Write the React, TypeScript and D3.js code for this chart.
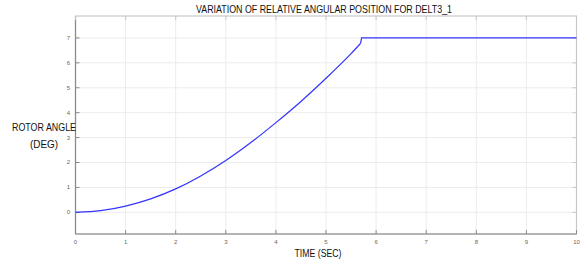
import React from "react";
import * as d3 from "d3";

const timeValues = [0, 0.5, 1, 1.5, 2, 2.5, 3, 3.5, 4, 4.5, 5, 5.5, 5.69];
const angleValues = [0, 0.065, 0.25, 0.54, 0.94, 1.46, 2.08, 2.8, 3.6, 4.45, 5.38, 6.37, 6.78];
const flatTimes = [5.69, 5.71, 10];
const flatValues = [6.78, 7, 7];
const xTicks = [0, 1, 2, 3, 4, 5, 6, 7, 8, 9, 10];
const yTicks = [0, 1, 2, 3, 4, 5, 6, 7];
const title = "VARIATION OF RELATIVE ANGULAR POSITION FOR DELT3_1";
const xLabel = "TIME (SEC)";
const yLabelLines = ["ROTOR ANGLE", "(DEG)"];

const W = 580, H = 264;
const left = 75.5, right = 576.5, top = 16, bottom = 234;
const FONT = "'Liberation Sans Narrow', 'Liberation Sans', Arial, sans-serif";

export default function App() {
  const x = d3.scaleLinear().domain([0, 10]).range([left, right]);
  const y = d3.scaleLinear().domain([-0.87, 7.88]).range([bottom, top]);

  const curve = d3.line<number>()
    .x((_, i) => x(timeValues[i]))
    .y((d) => y(d))
    .curve(d3.curveMonotoneX)(angleValues) as string;
  const flat = d3.line<number>()
    .x((_, i) => x(flatTimes[i]))
    .y((d) => y(d))(flatValues) as string;

  return (
    <svg width={W} height={H} style={{ position: "absolute", left: 0, top: 0, background: "#fff" }}>
      <rect x={0} y={0} width={W} height={H} fill="#fff" />
      {xTicks.map((t) => (
        <line key={"gx" + t} x1={x(t)} x2={x(t)} y1={top} y2={bottom} stroke="#ececec" strokeWidth={1} />
      ))}
      {yTicks.map((t) => (
        <line key={"gy" + t} x1={left} x2={right} y1={y(t)} y2={y(t)} stroke="#ececec" strokeWidth={1} />
      ))}
      <rect x={left} y={top} width={right - left} height={bottom - top} fill="none" stroke="#c8c8c8" strokeWidth={1.2} />
      <line x1={left} x2={left} y1={top} y2={bottom} stroke="#8a8a8a" strokeWidth={1.2} />
      <line x1={left} x2={right} y1={bottom} y2={bottom} stroke="#8a8a8a" strokeWidth={1.2} />
      {xTicks.map((t) => (
        <g key={"tx" + t}>
          <line x1={x(t)} x2={x(t)} y1={bottom} y2={bottom - 4} stroke="#8a8a8a" />
          <line x1={x(t)} x2={x(t)} y1={top} y2={top + 4} stroke="#c8c8c8" />
          <text x={x(t)} y={244} fontSize={6} fill="#666" textAnchor="middle" fontFamily={FONT}>{t}</text>
        </g>
      ))}
      {yTicks.map((t) => (
        <g key={"ty" + t}>
          <line x1={left} x2={left + 4} y1={y(t)} y2={y(t)} stroke="#8a8a8a" />
          <line x1={right} x2={right - 4} y1={y(t)} y2={y(t)} stroke="#c8c8c8" />
          <text x={70} y={y(t) + 2} fontSize={6} fill="#666" textAnchor="end" fontFamily={FONT}>{t}</text>
        </g>
      ))}
      <path d={curve} fill="none" stroke="#3333ff" strokeWidth={1.2} />
      <path d={flat} fill="none" stroke="#3333ff" strokeWidth={1.2} />
      <text x={324} y={12.5} fontSize={10.5} textAnchor="middle" fontFamily={FONT} fill="#111" textLength={256} lengthAdjust="spacingAndGlyphs">{title}</text>
      <text x={318} y={257} fontSize={10.5} textAnchor="middle" fontFamily={FONT} fill="#111" textLength={47} lengthAdjust="spacingAndGlyphs">{xLabel}</text>
      <text x={44} y={131} fontSize={10.5} textAnchor="middle" fontFamily={FONT} fill="#111" textLength={64} lengthAdjust="spacingAndGlyphs">{yLabelLines[0]}</text>
      <text x={44} y={148} fontSize={10.5} textAnchor="middle" fontFamily={FONT} fill="#111" textLength={28} lengthAdjust="spacingAndGlyphs">{yLabelLines[1]}</text>
    </svg>
  );
}
